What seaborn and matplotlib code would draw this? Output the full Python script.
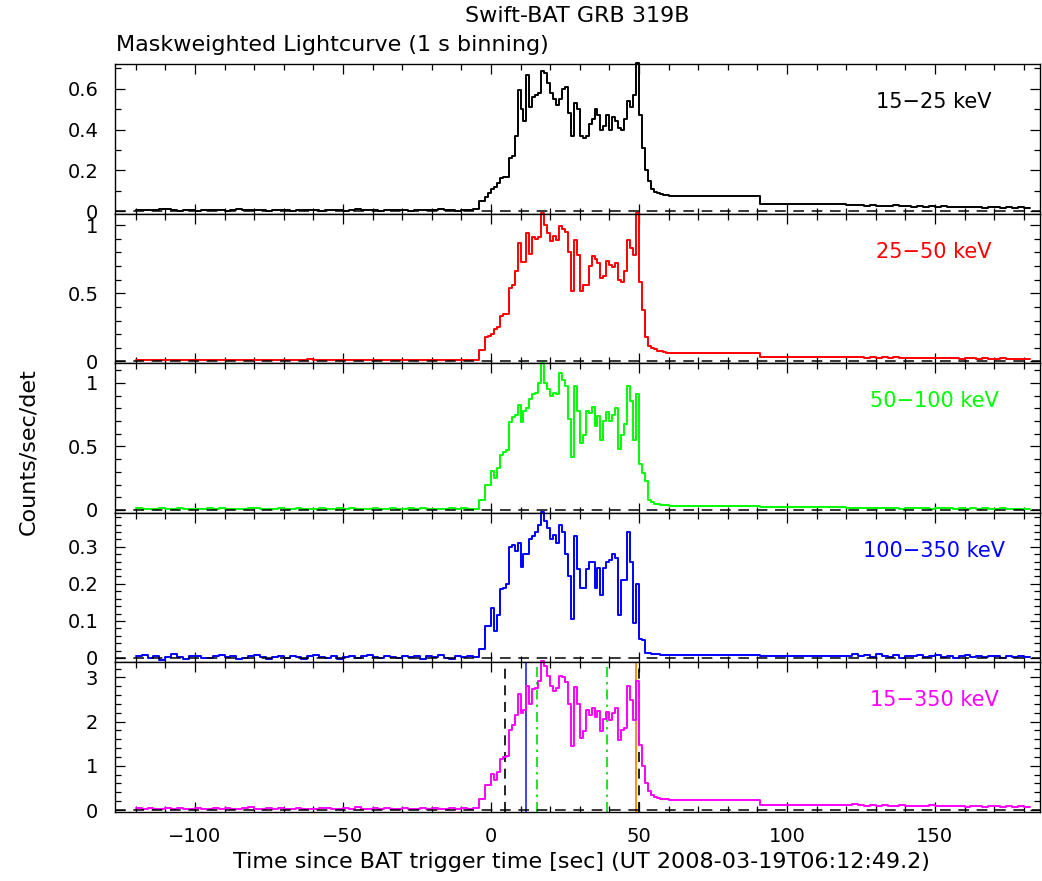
import numpy as np
import pandas as pd
import matplotlib
matplotlib.use("Agg")
import matplotlib.pyplot as plt
from matplotlib.ticker import MultipleLocator, FuncFormatter
import seaborn as sns

# ---------------------------------------------------------------- data
bands = ["15\u221225 keV", "25\u221250 keV", "50\u2212100 keV", "100\u2212350 keV", "15\u2212350 keV"]
colors = ["#000000", "#ff0000", "#00ff00", "#0000ff", "#ff00ff"]

# pre-burst background, 2 s bins ending at T-4 s
pre_1525 = [0.006, 0.004, 0.008, 0.005, 0.009, 0.010, 0.005, 0.003, 0.006, 0.004,
            0.002, 0.005, 0.007, 0.004, 0.006, 0.003, 0.005, 0.009, 0.004, 0.006,
            0.008, 0.004, 0.002, 0.005, 0.007, 0.006, 0.003, 0.005, 0.008, 0.004,
            0.006, 0.002, 0.004, 0.007, 0.005, 0.003, 0.006, 0.009, 0.004, 0.005,
            0.007, 0.003, 0.006, 0.004, 0.008, 0.005, 0.003, 0.006, 0.004, 0.007,
            0.005, 0.009, 0.004, 0.006, 0.003, 0.005, 0.004, 0.012]
pre_2550 = [0.010, 0.012, 0.008, 0.011, 0.009, 0.013, 0.010, 0.007, 0.011, 0.009,
            0.012, 0.008, 0.010, 0.014, 0.009, 0.011, 0.007, 0.010, 0.012, 0.009,
            0.011, 0.008, 0.013, 0.010, 0.009, 0.012, 0.007, 0.010, 0.011, 0.015,
            0.009, 0.010, 0.008, 0.012, 0.010, 0.011, 0.009, 0.007, 0.012, 0.010,
            0.008, 0.011, 0.013, 0.009, 0.010, 0.012, 0.008, 0.011, 0.009, 0.010,
            0.013, 0.009, 0.011, 0.008, 0.010, 0.012, 0.009, 0.010]
pre_50100 = [0.012, 0.009, 0.010, 0.007, 0.011, 0.008, 0.010, 0.013, 0.009, 0.008,
             0.010, 0.007, 0.011, 0.009, 0.012, 0.008, 0.010, 0.009, 0.007, 0.011,
             0.013, 0.009, 0.008, 0.010, 0.012, 0.007, 0.009, 0.011, 0.010, 0.008,
             0.009, 0.012, 0.010, 0.007, 0.011, 0.009, 0.013, 0.008, 0.010, 0.009,
             0.011, 0.007, 0.010, 0.012, 0.009, 0.008, 0.011, 0.010, 0.013, 0.009,
             0.007, 0.010, 0.008, 0.011, 0.009, 0.012, 0.010, 0.009]
pre_100350 = [0.004, 0.008, 0.001, 0.006, -0.005, 0.003, 0.010, 0.002, -0.002, 0.005,
              0.004, 0.000, -0.001, 0.006, 0.009, 0.002, 0.005, -0.003, 0.001, 0.004,
              0.007, 0.002, -0.004, 0.003, 0.005, 0.001, 0.006, 0.003, -0.002, 0.004,
              0.008, 0.002, 0.000, 0.005, -0.003, 0.003, 0.006, 0.001, 0.004, 0.007,
              0.002, -0.001, 0.005, 0.003, 0.000, 0.006, 0.002, 0.004, -0.002, 0.005,
              0.003, 0.007, 0.001, -0.003, 0.004, 0.002, 0.005, 0.003]
pre_15350 = [0.04, 0.03, 0.05, 0.03, 0.02, 0.04, 0.03, 0.05, 0.02, 0.03,
             0.04, 0.02, 0.03, 0.05, 0.03, 0.04, 0.02, 0.03, 0.04, 0.06,
             0.03, 0.02, 0.04, 0.03, 0.05, 0.03, 0.02, 0.04, 0.03, 0.02,
             0.03, 0.05, 0.04, 0.02, 0.03, 0.04, 0.03, 0.06, 0.03, 0.02,
             0.04, 0.03, 0.05, 0.02, 0.03, 0.04, 0.03, 0.02, 0.05, 0.03,
             0.04, 0.02, 0.03, 0.04, 0.03, 0.05, 0.03, 0.04]

# burst, 1 s bins from T-4 s to T+62 s
burst_1525 = [0.05, 0.05, 0.07, 0.09, 0.11, 0.12, 0.14, 0.165, 0.17, 0.17,
              0.26, 0.27, 0.37, 0.595, 0.50, 0.44, 0.67, 0.51, 0.56, 0.57,
              0.58, 0.69, 0.68, 0.63, 0.58, 0.55, 0.52, 0.55, 0.60, 0.61,
              0.48, 0.37, 0.53, 0.50, 0.37, 0.36, 0.37, 0.43, 0.45, 0.50,
              0.47, 0.40, 0.42, 0.47, 0.40, 0.46, 0.44, 0.41, 0.40, 0.45,
              0.54, 0.51, 0.57, 0.725, 0.47, 0.31, 0.20, 0.15, 0.11, 0.095,
              0.09, 0.085, 0.08, 0.078, 0.075, 0.074]
burst_2550 = [0.085, 0.085, 0.18, 0.19, 0.20, 0.24, 0.25, 0.33, 0.35, 0.35,
              0.54, 0.56, 0.66, 0.87, 0.73, 0.73, 0.94, 0.79, 0.91, 0.90,
              0.91, 1.09, 1.00, 0.94, 0.88, 0.92, 0.89, 0.99, 0.97, 0.95,
              0.80, 0.52, 0.89, 0.78, 0.52, 0.56, 0.56, 0.70, 0.77, 0.75,
              0.72, 0.61, 0.63, 0.74, 0.71, 0.69, 0.72, 0.60, 0.58, 0.66,
              0.89, 0.83, 0.78, 1.09, 0.585, 0.38, 0.18, 0.11, 0.10, 0.09,
              0.08, 0.075, 0.07, 0.065, 0.062, 0.06]
burst_50100 = [0.08, 0.08, 0.20, 0.20, 0.31, 0.25, 0.33, 0.43, 0.46, 0.47,
               0.69, 0.73, 0.75, 0.83, 0.69, 0.78, 0.80, 0.87, 0.91, 0.92,
               1.00, 1.16, 1.00, 0.95, 0.90, 0.92, 0.91, 1.08, 1.02, 0.98,
               0.72, 0.42, 0.98, 0.78, 0.53, 0.59, 0.78, 0.76, 0.81, 0.66,
               0.74, 0.55, 0.70, 0.77, 0.70, 0.75, 0.80, 0.48, 0.59, 0.68,
               0.98, 0.86, 0.55, 0.91, 0.36, 0.29, 0.23, 0.08, 0.06, 0.05,
               0.045, 0.04, 0.038, 0.035, 0.033, 0.032]
burst_100350 = [0.025, 0.025, 0.086, 0.086, 0.135, 0.072, 0.117, 0.187, 0.19, 0.20,
                0.30, 0.305, 0.29, 0.31, 0.245, 0.28, 0.28, 0.32, 0.33, 0.34,
                0.36, 0.395, 0.37, 0.35, 0.32, 0.333, 0.31, 0.36, 0.34, 0.28,
                0.22, 0.104, 0.33, 0.24, 0.19, 0.19, 0.24, 0.26, 0.26, 0.19,
                0.243, 0.17, 0.243, 0.26, 0.265, 0.28, 0.27, 0.117, 0.21, 0.21,
                0.34, 0.26, 0.095, 0.20, 0.05, 0.048, 0.014, 0.013, 0.012, 0.011,
                0.010, 0.009, 0.008, 0.009, 0.008, 0.008]
burst_15350 = [0.26, 0.26, 0.57, 0.57, 0.81, 0.67, 0.85, 1.15, 1.19, 1.22,
               1.81, 1.93, 2.15, 2.63, 2.19, 2.26, 2.81, 2.41, 2.74, 2.76,
               2.93, 3.38, 3.25, 3.04, 2.81, 2.70, 2.75, 3.04, 3.00, 2.90,
               2.40, 1.44, 2.78, 2.40, 1.63, 1.78, 2.26, 2.15, 2.30, 2.11,
               2.25, 1.78, 2.07, 2.22, 2.04, 2.20, 2.30, 1.59, 1.81, 1.85,
               2.81, 2.48, 2.04, 2.93, 1.48, 1.00, 0.60, 0.42, 0.33, 0.29,
               0.27, 0.26, 0.25, 0.24, 0.23, 0.22]

# two long bins: T+62..91 s and T+91..120 s
mid_edges = [62, 91, 120]
mid_1525 = [0.072, 0.036]
mid_2550 = [0.062, 0.035]
mid_50100 = [0.032, 0.020]
mid_100350 = [0.008, 0.004]
mid_15350 = [0.23, 0.12]

# tail, 2 s bins from T+120 s
post_1525 = [0.030, 0.028, 0.031, 0.026, 0.029, 0.025, 0.027, 0.024, 0.028, 0.023,
             0.025, 0.022, 0.026, 0.021, 0.024, 0.020, 0.023, 0.019, 0.022, 0.020,
             0.018, 0.021, 0.019, 0.017, 0.020, 0.018, 0.016, 0.019, 0.017, 0.018, 0.016]
post_2550 = [0.032, 0.029, 0.033, 0.028, 0.030, 0.027, 0.031, 0.026, 0.029, 0.025,
             0.028, 0.024, 0.027, 0.025, 0.023, 0.026, 0.022, 0.025, 0.023, 0.021,
             0.024, 0.022, 0.020, 0.023, 0.021, 0.019, 0.022, 0.020, 0.021, 0.019, 0.020]
post_50100 = [0.014, 0.016, 0.012, 0.015, 0.013, 0.011, 0.014, 0.012, 0.015, 0.010,
              0.013, 0.011, 0.012, 0.014, 0.010, 0.012, 0.011, 0.013, 0.009, 0.012,
              0.010, 0.011, 0.009, 0.012, 0.010, 0.008, 0.011, 0.009, 0.010, 0.008, 0.009]
post_100350 = [0.006, 0.012, 0.004, 0.008, 0.002, 0.010, 0.005, 0.003, 0.007, 0.001,
               0.006, 0.004, 0.009, 0.002, 0.005, 0.007, 0.003, 0.006, 0.001, 0.004,
               0.008, 0.003, 0.005, 0.002, 0.006, 0.004, 0.001, 0.005, 0.003, 0.004, 0.002]
post_15350 = [0.11, 0.13, 0.12, 0.10, 0.12, 0.09, 0.11, 0.10, 0.09, 0.11,
              0.10, 0.08, 0.10, 0.09, 0.11, 0.08, 0.09, 0.10, 0.08, 0.09,
              0.07, 0.09, 0.08, 0.07, 0.08, 0.09, 0.07, 0.08, 0.07, 0.08, 0.07]

pre = [pre_1525, pre_2550, pre_50100, pre_100350, pre_15350]
burst = [burst_1525, burst_2550, burst_50100, burst_100350, burst_15350]
mid = [mid_1525, mid_2550, mid_50100, mid_100350, mid_15350]
post = [post_1525, post_2550, post_50100, post_100350, post_15350]

# duration markers (s) in the summed band
t100_edges = [4.7, 50.0]
t90_start, t90_stop = 11.8, 48.9
t50_edges = [15.4, 39.3]

# axis settings per band: (ymin, ymax), major and minor tick steps
ylims = [(-0.012, 0.722), (-0.013, 1.084), (-0.023, 1.156), (-0.012, 0.392), (-0.045, 3.34)]
major = [0.2, 0.5, 0.5, 0.1, 1.0]
minor = [0.1, 0.1, 0.1, 0.02, 0.2]


def build_frame(p, b, m, q):
    t_pre = -4 - 2 * len(p) + 2 * np.arange(len(p))
    t_burst = -4 + np.arange(len(b))
    t_mid = np.array(mid_edges[:-1])
    t_post = 120 + 2 * np.arange(len(q))
    t = np.concatenate([t_pre, t_burst, t_mid, t_post, [120 + 2 * len(q)]])
    v = np.concatenate([p, b, m, q, [q[-1]]])
    return pd.DataFrame({"t": t, "rate": v})


# ---------------------------------------------------------------- style
sns.set_style("ticks")
plt.rcParams["font.family"] = ["DejaVu Sans"]
plt.rcParams["axes.linewidth"] = 1.0
plt.rcParams["text.color"] = "black"
plt.rcParams["axes.labelcolor"] = "black"
plt.rcParams["xtick.color"] = "black"
plt.rcParams["ytick.color"] = "black"

W, H = 1042, 881
fig, axes = plt.subplots(5, 1, sharex=True, figsize=(W / 100, H / 100), dpi=100)
fig.subplots_adjust(left=115 / W, right=1040 / W, top=1 - 64 / H, bottom=1 - 812 / H, hspace=0)

fmt = FuncFormatter(lambda v, p: f"{v:g}")
for i, ax in enumerate(axes):
    df = build_frame(pre[i], burst[i], mid[i], post[i])
    sns.lineplot(data=df, x="t", y="rate", ax=ax, color=colors[i], lw=1.4,
                 drawstyle="steps-post", estimator=None, sort=False, clip_on=False, zorder=2)
    ax.axhline(0, color="black", lw=1.1, ls=(0, (7, 5)), zorder=3)
    ax.set_xlim(-127, 185.5)
    ax.set_ylim(*ylims[i])
    ax.yaxis.set_major_locator(MultipleLocator(major[i]))
    ax.yaxis.set_minor_locator(MultipleLocator(minor[i]))
    ax.yaxis.set_major_formatter(fmt)
    ax.xaxis.set_major_locator(MultipleLocator(50))
    ax.xaxis.set_minor_locator(MultipleLocator(10))
    ax.tick_params(which="both", direction="in", top=True, right=True, width=0.9,
                   labelsize=14, colors="black")
    ax.tick_params(which="major", length=7.5)
    ax.tick_params(which="minor", length=4)
    ax.tick_params(axis="y", pad=12)
    ax.tick_params(axis="x", pad=11)
    ax.set_xlabel("")
    ax.set_ylabel("")
    for s in ax.spines.values():
        s.set_visible(True)
        s.set_color("black")
    # band label about 38 px below the panel top
    pos = ax.get_position()
    fig.text(934 / W, pos.y1 - 38 / H, bands[i], color=colors[i], fontsize=15,
             ha="center", va="center")

# duration markers on the summed band
ax5 = axes[4]
for x in t100_edges:
    ax5.axvline(x, color="black", lw=1.2, ls=(0, (6, 4)), zorder=1)
ax5.axvline(t90_start, color="#2020ff", lw=1.2, zorder=1)
ax5.axvline(t90_stop, color="#ff8c1a", lw=1.4, zorder=1)
for x in t50_edges:
    ax5.axvline(x, color="#00dd00", lw=1.2, ls=(0, (6, 3, 1.5, 3)), zorder=1)

fig.text(577 / W, 1 - 16 / H, "Swift-BAT GRB 319B", ha="center", va="center", fontsize=16,
         color="black")
fig.text(116 / W, 1 - 45 / H, "Maskweighted Lightcurve (1 s binning)", ha="left", va="center",
         fontsize=16, color="black")
fig.text(581 / W, 1 - 862 / H, "Time since BAT trigger time [sec] (UT 2008-03-19T06:12:49.2)",
         ha="center", va="center", fontsize=16, color="black")
fig.text(28 / W, 1 - 452 / H, "Counts/sec/det", ha="center", va="center", rotation=90,
         fontsize=16, color="black")

fig.savefig("out.png", dpi=100, facecolor="white")
